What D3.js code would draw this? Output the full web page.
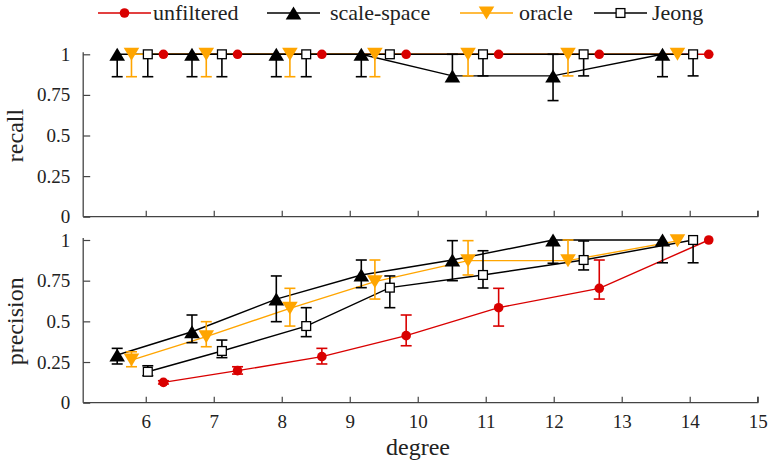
<!DOCTYPE html>
<html>
<head>
<meta charset="utf-8">
<script src="https://cdn.jsdelivr.net/npm/d3@7"></script>
<style>
  html, body { margin: 0; padding: 0; background: #fff; }
  svg text { font-family: "Liberation Serif", "DejaVu Serif", serif; fill: #222; }
</style>
</head>
<body>
<svg id="chart" width="768" height="466"></svg>
<script>
// Mean degree of each test group, per method
const xUnfiltered = [6.26, 7.35, 8.59, 9.83, 11.19, 12.67, 14.28];
const xScaleSpace = [5.58, 6.68, 7.92, 9.17, 10.51, 11.99, 13.60];
const xOracle     = [5.79, 6.89, 8.12, 9.37, 10.74, 12.21, 13.82];
const xJeong      = [6.03, 7.12, 8.36, 9.59, 10.96, 12.44, 14.05];

// Recall: value, lower and upper error bound
const recallUnfiltered   = [1, 1, 1, 1, 1, 1, 1];
const recallUnfilteredLo = [1, 1, 1, 1, 1, 1, 1];
const recallUnfilteredHi = [1, 1, 1, 1, 1, 1, 1];
const recallScaleSpace   = [1, 1, 1, 1, 0.867, 0.867, 1];
const recallScaleSpaceLo = [0.862, 0.862, 0.862, 0.862, 0.867, 0.715, 0.862];
const recallScaleSpaceHi = [1, 1, 1, 1, 1, 1, 1];
const recallOracle       = [1, 1, 1, 1, 1, 1, 1];
const recallOracleLo     = [0.862, 0.862, 0.862, 0.862, 0.867, 0.867, 1];
const recallOracleHi     = [1, 1, 1, 1, 1, 1, 1];
const recallJeong        = [1, 1, 1, 1, 1, 1, 1];
const recallJeongLo      = [0.862, 0.862, 0.862, 1, 0.867, 0.867, 0.867];
const recallJeongHi      = [1, 1, 1, 1, 1, 1, 1];

// Precision: value, lower and upper error bound
const precUnfiltered   = [0.125, 0.197, 0.283, 0.412, 0.584, 0.703, 1.0];
const precUnfilteredLo = [0.115, 0.176, 0.238, 0.350, 0.471, 0.637, 1.0];
const precUnfilteredHi = [0.135, 0.221, 0.334, 0.539, 0.703, 0.877, 1.0];
const precScaleSpace   = [0.293, 0.436, 0.637, 0.785, 0.877, 1.0, 1.0];
const precScaleSpaceLo = [0.238, 0.369, 0.498, 0.707, 0.750, 0.857, 0.860];
const precScaleSpaceHi = [0.334, 0.539, 0.779, 0.877, 0.996, 1.0, 1.0];
const precOracle       = [0.262, 0.406, 0.580, 0.744, 0.873, 0.873, 0.995];
const precOracleLo     = [0.221, 0.344, 0.471, 0.637, 0.785, 0.873, 0.995];
const precOracleHi     = [0.313, 0.498, 0.703, 0.877, 0.996, 1.0, 0.995];
const precJeong        = [0.190, 0.318, 0.471, 0.707, 0.785, 0.877, 1.0];
const precJeongLo      = [0.166, 0.277, 0.406, 0.584, 0.705, 0.816, 0.860];
const precJeongHi      = [0.227, 0.385, 0.584, 0.779, 0.934, 0.994, 1.0];

const seriesNames = ["unfiltered", "scale-space", "oracle", "Jeong"];
const xTicks = [6, 7, 8, 9, 10, 11, 12, 13, 14, 15];
const yTicks = [0, 0.25, 0.5, 0.75, 1];
const yTickLabels = ["0", "0.25", "0.5", "0.75", "1"];

const styles = {
  "unfiltered":  { color: "#d90000", marker: "circle" },
  "scale-space": { color: "#000000", marker: "triangleUp" },
  "oracle":      { color: "#ffa500", marker: "triangleDown" },
  "Jeong":       { color: "#000000", marker: "square" }
};

function build(xs, v, lo, hi) {
  return xs.map((x, i) => ({ x: x, y: v[i], lo: lo[i], hi: hi[i] }));
}

const panels = [
  {
    label: "recall",
    range: [216.7, 54.3],
    series: [
      { name: "unfiltered",  pts: build(xUnfiltered, recallUnfiltered, recallUnfilteredLo, recallUnfilteredHi) },
      { name: "scale-space", pts: build(xScaleSpace, recallScaleSpace, recallScaleSpaceLo, recallScaleSpaceHi) },
      { name: "oracle",      pts: build(xOracle, recallOracle, recallOracleLo, recallOracleHi) },
      { name: "Jeong",       pts: build(xJeong, recallJeong, recallJeongLo, recallJeongHi) }
    ]
  },
  {
    label: "precision",
    range: [402.7, 240],
    series: [
      { name: "unfiltered",  pts: build(xUnfiltered, precUnfiltered, precUnfilteredLo, precUnfilteredHi) },
      { name: "scale-space", pts: build(xScaleSpace, precScaleSpace, precScaleSpaceLo, precScaleSpaceHi) },
      { name: "oracle",      pts: build(xOracle, precOracle, precOracleLo, precOracleHi) },
      { name: "Jeong",       pts: build(xJeong, precJeong, precJeongLo, precJeongHi) }
    ]
  }
];

const svg = d3.select("#chart");
const x = d3.scaleLinear().domain([5.08, 15]).range([83.2, 757.7]);
const axisColor = "#444";
const capHalf = 5.5;
const serif = '"Liberation Serif", serif';

function drawMarker(g, kind, color, cx, cy) {
  if (kind === "circle") {
    g.append("circle").attr("cx", cx).attr("cy", cy).attr("r", 4.8).attr("fill", color);
  } else if (kind === "triangleUp") {
    const w = 7.8, h = 6.5;
    g.append("path")
      .attr("d", `M${cx},${cy - h}L${cx + w},${cy + h}L${cx - w},${cy + h}Z`)
      .attr("fill", color);
  } else if (kind === "triangleDown") {
    const w = 7.8, h = 6.5;
    g.append("path")
      .attr("d", `M${cx - w},${cy - h}L${cx + w},${cy - h}L${cx},${cy + h}Z`)
      .attr("fill", color);
  } else if (kind === "square") {
    g.append("rect").attr("x", cx - 4.4).attr("y", cy - 4.4)
      .attr("width", 8.8).attr("height", 8.8)
      .attr("fill", "#fff").attr("stroke", color).attr("stroke-width", 1.3);
  }
}

panels.forEach((p, pi) => {
  const y = d3.scaleLinear().domain([0, 1]).range(p.range);
  const g = svg.append("g");

  // axes: left and bottom only, ticks pointing inward
  const yAxis = d3.axisLeft(y).tickValues(yTicks)
    .tickFormat((d, i) => yTickLabels[i]).tickSize(-7).tickPadding(13);
  const ya = g.append("g").attr("transform", `translate(${x.range()[0]},0)`).call(yAxis);
  const xAxis = d3.axisBottom(x).tickValues(xTicks).tickSize(-6)
    .tickFormat(pi === 1 ? d3.format("d") : "").tickPadding(12);
  const xa = g.append("g").attr("transform", `translate(0,${p.range[0]})`).call(xAxis);
  [ya, xa].forEach(a => {
    a.attr("font-family", serif);
    a.select(".domain").attr("stroke", axisColor).attr("stroke-width", 1.3);
    a.selectAll(".tick line").attr("stroke", axisColor).attr("stroke-width", 1.2);
    a.selectAll(".tick text").attr("font-size", 19).attr("fill", "#222")
      .style("font-family", serif);
  });
  ya.select(".domain").attr("d", `M0,${p.range[0]}V${p.range[1] - 2}`);
  xa.select(".domain").attr("d", `M${x.range()[0]},0H${x.range()[1]}V-6`);

  // axis title
  g.append("text")
    .attr("transform", `translate(23,${(p.range[0] + p.range[1]) / 2}) rotate(-90)`)
    .attr("text-anchor", "middle").attr("font-size", 24).text(p.label);

  const line = d3.line().x(d => x(d.x)).y(d => y(d.y));

  // connecting lines
  p.series.forEach(s => {
    g.append("path").datum(s.pts).attr("d", line)
      .attr("fill", "none").attr("stroke", styles[s.name].color).attr("stroke-width", 1.4);
  });

  // error bars
  p.series.forEach(s => {
    const c = styles[s.name].color;
    s.pts.forEach(d => {
      if (d.hi - d.lo < 1e-6) return;
      const cx = x(d.x);
      const eb = g.append("g").attr("stroke", c).attr("stroke-width", 1.6);
      eb.append("line").attr("x1", cx).attr("x2", cx).attr("y1", y(d.lo)).attr("y2", y(d.hi));
      if (d.lo < d.y - 1e-6)
        eb.append("line").attr("x1", cx - capHalf).attr("x2", cx + capHalf).attr("y1", y(d.lo)).attr("y2", y(d.lo));
      if (d.hi > d.y + 1e-6)
        eb.append("line").attr("x1", cx - capHalf).attr("x2", cx + capHalf).attr("y1", y(d.hi)).attr("y2", y(d.hi));
    });
  });

  // markers
  p.series.forEach(s => {
    const st = styles[s.name];
    s.pts.forEach(d => drawMarker(g, st.marker, st.color, x(d.x), y(d.y)));
  });
});

// x axis title
svg.append("text").attr("x", 418).attr("y", 455)
  .attr("text-anchor", "middle").attr("font-size", 24).text("degree");

// legend
const legendLineStarts = [98, 267, 460, 594];
const legendTextStarts = [153, 330, 519, 652];
const legend = svg.append("g");
seriesNames.forEach((name, i) => {
  const st = styles[name];
  const x0 = legendLineStarts[i], yL = 13;
  legend.append("line").attr("x1", x0).attr("x2", x0 + 53).attr("y1", yL).attr("y2", yL)
    .attr("stroke", st.color).attr("stroke-width", 1.4);
  drawMarker(legend, st.marker, st.color, x0 + 26.5, yL);
  legend.append("text").attr("x", legendTextStarts[i]).attr("y", yL + 6.5)
    .attr("font-size", 22).text(name);
});
</script>
</body>
</html>
